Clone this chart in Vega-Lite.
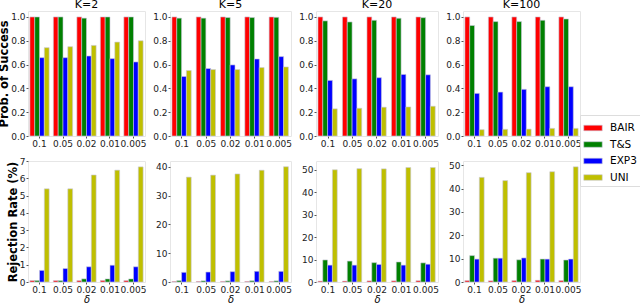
{
  "$schema": "https://vega.github.io/schema/vega-lite/v6.json",
  "padding": {"left": -2, "top": -2, "right": 0, "bottom": 0},
  "background": "white",
  "bounds": "flush",
  "spacing": {"row": 25, "column": 25},
  "columns": 4,
  "config": {
    "font": "DejaVu Sans",
    "view": {"stroke": "#e6e6e6", "strokeWidth": 1},
    "axis": {"grid": false, "domain": false, "tickSize": 2, "tickColor": "#555", "labelFontSize": 9, "labelColor": "#222", "labelPadding": 1, "titleFontSize": 11, "titleColor": "#000"},
    "axisY": {"titlePadding": 1},
    "title": {"fontSize": 11, "fontWeight": "normal", "offset": 1, "color": "#000"},
    "bar": {"stroke": "#c8c8d8", "strokeWidth": 0.6}
  },
  "data": {"values": [
    {"K":"K=2","delta":"0.1","algo":"BAIR","p":1,"r":0.08},
    {"K":"K=2","delta":"0.1","algo":"T&S","p":1,"r":0.08},
    {"K":"K=2","delta":"0.1","algo":"EXP3","p":0.658,"r":0.67},
    {"K":"K=2","delta":"0.1","algo":"UNI","p":0.742,"r":5.39},
    {"K":"K=2","delta":"0.05","algo":"BAIR","p":1,"r":0.08},
    {"K":"K=2","delta":"0.05","algo":"T&S","p":1,"r":0.08},
    {"K":"K=2","delta":"0.05","algo":"EXP3","p":0.658,"r":0.78},
    {"K":"K=2","delta":"0.05","algo":"UNI","p":0.75,"r":5.39},
    {"K":"K=2","delta":"0.02","algo":"BAIR","p":1,"r":0.08},
    {"K":"K=2","delta":"0.02","algo":"T&S","p":0.99,"r":0.18},
    {"K":"K=2","delta":"0.02","algo":"EXP3","p":0.672,"r":0.88},
    {"K":"K=2","delta":"0.02","algo":"UNI","p":0.761,"r":6.19},
    {"K":"K=2","delta":"0.01","algo":"BAIR","p":1,"r":0.08},
    {"K":"K=2","delta":"0.01","algo":"T&S","p":1,"r":0.18},
    {"K":"K=2","delta":"0.01","algo":"EXP3","p":0.65,"r":0.97},
    {"K":"K=2","delta":"0.01","algo":"UNI","p":0.789,"r":6.47},
    {"K":"K=2","delta":"0.005","algo":"BAIR","p":1,"r":0.08},
    {"K":"K=2","delta":"0.005","algo":"T&S","p":1,"r":0.18},
    {"K":"K=2","delta":"0.005","algo":"EXP3","p":0.622,"r":0.88},
    {"K":"K=2","delta":"0.005","algo":"UNI","p":0.8,"r":6.66},
    {"K":"K=5","delta":"0.1","algo":"BAIR","p":1,"r":0.2},
    {"K":"K=5","delta":"0.1","algo":"T&S","p":0.99,"r":0.5},
    {"K":"K=5","delta":"0.1","algo":"EXP3","p":0.5,"r":3.35},
    {"K":"K=5","delta":"0.1","algo":"UNI","p":0.55,"r":36.4},
    {"K":"K=5","delta":"0.05","algo":"BAIR","p":1,"r":0.2},
    {"K":"K=5","delta":"0.05","algo":"T&S","p":0.99,"r":0.4},
    {"K":"K=5","delta":"0.05","algo":"EXP3","p":0.567,"r":3.46},
    {"K":"K=5","delta":"0.05","algo":"UNI","p":0.558,"r":37.1},
    {"K":"K=5","delta":"0.02","algo":"BAIR","p":1,"r":0.2},
    {"K":"K=5","delta":"0.02","algo":"T&S","p":0.995,"r":0.4},
    {"K":"K=5","delta":"0.02","algo":"EXP3","p":0.597,"r":3.58},
    {"K":"K=5","delta":"0.02","algo":"UNI","p":0.558,"r":37.5},
    {"K":"K=5","delta":"0.01","algo":"BAIR","p":1,"r":0.2},
    {"K":"K=5","delta":"0.01","algo":"T&S","p":0.995,"r":0.4},
    {"K":"K=5","delta":"0.01","algo":"EXP3","p":0.647,"r":3.69},
    {"K":"K=5","delta":"0.01","algo":"UNI","p":0.575,"r":38.8},
    {"K":"K=5","delta":"0.005","algo":"BAIR","p":1,"r":0.2},
    {"K":"K=5","delta":"0.005","algo":"T&S","p":0.997,"r":0.4},
    {"K":"K=5","delta":"0.005","algo":"EXP3","p":0.667,"r":3.69},
    {"K":"K=5","delta":"0.005","algo":"UNI","p":0.58,"r":40.0},
    {"K":"K=20","delta":"0.1","algo":"BAIR","p":1,"r":0.4},
    {"K":"K=20","delta":"0.1","algo":"T&S","p":0.967,"r":9.8},
    {"K":"K=20","delta":"0.1","algo":"EXP3","p":0.467,"r":7.5},
    {"K":"K=20","delta":"0.1","algo":"UNI","p":0.228,"r":49.9},
    {"K":"K=20","delta":"0.05","algo":"BAIR","p":1,"r":0.4},
    {"K":"K=20","delta":"0.05","algo":"T&S","p":0.958,"r":9.3},
    {"K":"K=20","delta":"0.05","algo":"EXP3","p":0.48,"r":7.5},
    {"K":"K=20","delta":"0.05","algo":"UNI","p":0.233,"r":50.4},
    {"K":"K=20","delta":"0.02","algo":"BAIR","p":1,"r":0.5},
    {"K":"K=20","delta":"0.02","algo":"T&S","p":0.972,"r":8.6},
    {"K":"K=20","delta":"0.02","algo":"EXP3","p":0.49,"r":7.8},
    {"K":"K=20","delta":"0.02","algo":"UNI","p":0.242,"r":50.3},
    {"K":"K=20","delta":"0.01","algo":"BAIR","p":1,"r":0.5},
    {"K":"K=20","delta":"0.01","algo":"T&S","p":0.989,"r":8.9},
    {"K":"K=20","delta":"0.01","algo":"EXP3","p":0.517,"r":7.5},
    {"K":"K=20","delta":"0.01","algo":"UNI","p":0.244,"r":50.9},
    {"K":"K=20","delta":"0.005","algo":"BAIR","p":1,"r":0.6},
    {"K":"K=20","delta":"0.005","algo":"T&S","p":0.994,"r":8.5},
    {"K":"K=20","delta":"0.005","algo":"EXP3","p":0.514,"r":7.9},
    {"K":"K=20","delta":"0.005","algo":"UNI","p":0.25,"r":50.9},
    {"K":"K=100","delta":"0.1","algo":"BAIR","p":1,"r":0.6},
    {"K":"K=100","delta":"0.1","algo":"T&S","p":0.928,"r":11.3},
    {"K":"K=100","delta":"0.1","algo":"EXP3","p":0.358,"r":9.8},
    {"K":"K=100","delta":"0.1","algo":"UNI","p":0.053,"r":44.8},
    {"K":"K=100","delta":"0.05","algo":"BAIR","p":1,"r":0.5},
    {"K":"K=100","delta":"0.05","algo":"T&S","p":0.961,"r":10.2},
    {"K":"K=100","delta":"0.05","algo":"EXP3","p":0.369,"r":10.2},
    {"K":"K=100","delta":"0.05","algo":"UNI","p":0.056,"r":43.4},
    {"K":"K=100","delta":"0.02","algo":"BAIR","p":1,"r":0.6},
    {"K":"K=100","delta":"0.02","algo":"T&S","p":0.961,"r":9.5},
    {"K":"K=100","delta":"0.02","algo":"EXP3","p":0.392,"r":10.3},
    {"K":"K=100","delta":"0.02","algo":"UNI","p":0.058,"r":46.8},
    {"K":"K=100","delta":"0.01","algo":"BAIR","p":1,"r":0.7},
    {"K":"K=100","delta":"0.01","algo":"T&S","p":0.972,"r":9.8},
    {"K":"K=100","delta":"0.01","algo":"EXP3","p":0.414,"r":9.8},
    {"K":"K=100","delta":"0.01","algo":"UNI","p":0.064,"r":47.2},
    {"K":"K=100","delta":"0.005","algo":"BAIR","p":1,"r":0.6},
    {"K":"K=100","delta":"0.005","algo":"T&S","p":0.983,"r":9.4},
    {"K":"K=100","delta":"0.005","algo":"EXP3","p":0.414,"r":9.8},
    {"K":"K=100","delta":"0.005","algo":"UNI","p":0.064,"r":49.3}
  ]},
  "concat": [
      {"width": 117, "height": 125, "title": "K=2", "transform": [{"filter": "datum.K == 'K=2'"}], "mark": "bar",
       "encoding": {
        "x": {"field": "delta", "type": "nominal", "sort": ["0.1","0.05","0.02","0.01","0.005"], "scale": {"paddingInner": 0.18, "paddingOuter": 0.08}, "axis": {"title": null, "labelAngle": 0}},
        "xOffset": {"field": "algo", "sort": ["BAIR","T&S","EXP3","UNI"]},
        "y": {"field": "p", "type": "quantitative", "scale": {"domain": [0, 1.05], "nice": false}, "axis": {"title": "Prob. of Success", "titleFontWeight": "bold", "titleFontSize": 11.5, "values": [0,0.2,0.4,0.6,0.8,1.0], "format": ".1f"}},
        "color": {"field": "algo", "type": "nominal", "sort": ["BAIR","T&S","EXP3","UNI"], "scale": {"domain": ["BAIR","T&S","EXP3","UNI"], "range": ["#ff0000","#008000","#0000ff","#bfbf00"]},
          "legend": {"title": null, "orient": "none", "legendX": 552, "legendY": 104, "symbolType": "M-1,-0.3H1V0.3H-1Z", "symbolSize": 340, "symbolStrokeWidth": 0, "labelFontSize": 10.5, "labelColor": "#000", "labelOffset": 7, "rowPadding": 0.5, "fillColor": "white", "strokeColor": "#dddddd", "padding": 3, "symbolOpacity": 1}}
       }},
      {"width": 121, "height": 125, "title": "K=5", "transform": [{"filter": "datum.K == 'K=5'"}], "mark": "bar",
       "encoding": {
        "x": {"field": "delta", "type": "nominal", "sort": ["0.1","0.05","0.02","0.01","0.005"], "scale": {"paddingInner": 0.18, "paddingOuter": 0.08}, "axis": {"title": null, "labelAngle": 0}},
        "xOffset": {"field": "algo", "sort": ["BAIR","T&S","EXP3","UNI"]},
        "y": {"field": "p", "type": "quantitative", "scale": {"domain": [0, 1.05], "nice": false}, "axis": {"title": null, "values": [0,0.2,0.4,0.6,0.8,1.0], "format": ".1f"}},
        "color": {"field": "algo", "type": "nominal"}
       }},
      {"width": 122, "height": 125, "title": "K=20", "transform": [{"filter": "datum.K == 'K=20'"}], "mark": "bar",
       "encoding": {
        "x": {"field": "delta", "type": "nominal", "sort": ["0.1","0.05","0.02","0.01","0.005"], "scale": {"paddingInner": 0.18, "paddingOuter": 0.08}, "axis": {"title": null, "labelAngle": 0}},
        "xOffset": {"field": "algo", "sort": ["BAIR","T&S","EXP3","UNI"]},
        "y": {"field": "p", "type": "quantitative", "scale": {"domain": [0, 1.05], "nice": false}, "axis": {"title": null, "values": [0,0.2,0.4,0.6,0.8,1.0], "format": ".1f"}},
        "color": {"field": "algo", "type": "nominal"}
       }},
      {"width": 117, "height": 125, "title": "K=100", "transform": [{"filter": "datum.K == 'K=100'"}], "mark": "bar",
       "encoding": {
        "x": {"field": "delta", "type": "nominal", "sort": ["0.1","0.05","0.02","0.01","0.005"], "scale": {"paddingInner": 0.18, "paddingOuter": 0.08}, "axis": {"title": null, "labelAngle": 0}},
        "xOffset": {"field": "algo", "sort": ["BAIR","T&S","EXP3","UNI"]},
        "y": {"field": "p", "type": "quantitative", "scale": {"domain": [0, 1.05], "nice": false}, "axis": {"title": null, "values": [0,0.2,0.4,0.6,0.8,1.0], "format": ".1f"}},
        "color": {"field": "algo", "type": "nominal"}
       }},
      {"width": 117, "height": 121, "transform": [{"filter": "datum.K == 'K=2'"}], "mark": "bar",
       "encoding": {
        "x": {"field": "delta", "type": "nominal", "sort": ["0.1","0.05","0.02","0.01","0.005"], "scale": {"paddingInner": 0.18, "paddingOuter": 0.08}, "axis": {"title": "δ", "titleFontStyle": "italic", "titleFontWeight": "normal", "titleFontSize": 10, "titlePadding": 0, "labelAngle": 0}},
        "xOffset": {"field": "algo", "sort": ["BAIR","T&S","EXP3","UNI"]},
        "y": {"field": "r", "type": "quantitative", "scale": {"domain": [0, 7.0], "nice": false}, "axis": {"title": "Rejection Rate (%)", "titleFontWeight": "bold", "titleFontSize": 11.5, "values": [0,1,2,3,4,5,6,7]}},
        "color": {"field": "algo", "type": "nominal"}
       }},
      {"width": 121, "height": 121, "transform": [{"filter": "datum.K == 'K=5'"}], "mark": "bar",
       "encoding": {
        "x": {"field": "delta", "type": "nominal", "sort": ["0.1","0.05","0.02","0.01","0.005"], "scale": {"paddingInner": 0.18, "paddingOuter": 0.08}, "axis": {"title": "δ", "titleFontStyle": "italic", "titleFontWeight": "normal", "titleFontSize": 10, "titlePadding": 0, "labelAngle": 0}},
        "xOffset": {"field": "algo", "sort": ["BAIR","T&S","EXP3","UNI"]},
        "y": {"field": "r", "type": "quantitative", "scale": {"domain": [0, 42], "nice": false}, "axis": {"title": null, "values": [0,10,20,30,40]}},
        "color": {"field": "algo", "type": "nominal"}
       }},
      {"width": 122, "height": 121, "transform": [{"filter": "datum.K == 'K=20'"}], "mark": "bar",
       "encoding": {
        "x": {"field": "delta", "type": "nominal", "sort": ["0.1","0.05","0.02","0.01","0.005"], "scale": {"paddingInner": 0.18, "paddingOuter": 0.08}, "axis": {"title": "δ", "titleFontStyle": "italic", "titleFontWeight": "normal", "titleFontSize": 10, "titlePadding": 0, "labelAngle": 0}},
        "xOffset": {"field": "algo", "sort": ["BAIR","T&S","EXP3","UNI"]},
        "y": {"field": "r", "type": "quantitative", "scale": {"domain": [0, 53.8], "nice": false}, "axis": {"title": null, "values": [0,10,20,30,40,50]}},
        "color": {"field": "algo", "type": "nominal"}
       }},
      {"width": 117, "height": 121, "transform": [{"filter": "datum.K == 'K=100'"}], "mark": "bar",
       "encoding": {
        "x": {"field": "delta", "type": "nominal", "sort": ["0.1","0.05","0.02","0.01","0.005"], "scale": {"paddingInner": 0.18, "paddingOuter": 0.08}, "axis": {"title": "δ", "titleFontStyle": "italic", "titleFontWeight": "normal", "titleFontSize": 10, "titlePadding": 0, "labelAngle": 0}},
        "xOffset": {"field": "algo", "sort": ["BAIR","T&S","EXP3","UNI"]},
        "y": {"field": "r", "type": "quantitative", "scale": {"domain": [0, 51.8], "nice": false}, "axis": {"title": null, "values": [0,10,20,30,40,50]}},
        "color": {"field": "algo", "type": "nominal"}
       }}
  ],
  "resolve": {"scale": {"y": "independent", "x": "independent"}}
}
